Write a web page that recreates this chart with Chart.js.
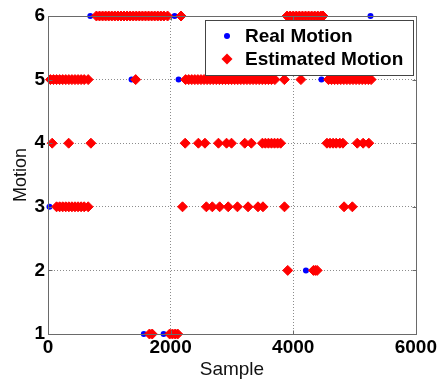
<!DOCTYPE html>
<html><head><meta charset="utf-8">
<script src="https://cdn.jsdelivr.net/npm/chart.js@4.4.1/dist/chart.umd.min.js"></script>
<style>html,body{margin:0;padding:0;background:#fff;}canvas{display:block;}</style>
</head><body>
<canvas id="c" width="439" height="381"></canvas>
<script>
// ---- data ----
const xTicks = [0, 2000, 4000, 6000];
const yTicks = [1, 2, 3, 4, 5, 6];
const seriesNames = ['Real Motion', 'Estimated Motion'];

// Estimated Motion: sample positions per motion level
const est6 = [790,840,890,940,990,1040,1090,1140,1190,1240,1290,1340,1390,1440,1490,1540,1590,1640,1690,1740,1790,1840,1890,1950,2170,
              3900,3950,4000,4050,4100,4150,4200,4250,4300,4350,4400,4450,4485];
const est5 = [40,90,140,190,240,290,340,390,440,490,540,590,655,1430,
              2245,2295,2345,2395,2445,2495,2545,2595,2645,2695,2745,2795,2845,2895,2945,2995,3045,3095,3145,3195,3245,3295,3345,3395,3445,3495,3545,3595,3645,3700,
              3855,4125,
              4575,4625,4675,4725,4775,4825,4875,4925,4975,5025,5075,5125,5175,5225,5270];
const est4 = [68,337,700,2237,2453,2560,2780,2912,2993,3209,3316,3497,3545,3595,3645,3695,3745,3794,
              4550,4600,4650,4700,4760,4810,5044,5140,5233];
const est3 = [140,190,240,290,340,390,440,490,540,590,655,2194,2583,2680,2800,2939,3090,3263,3425,3506,3857,4829,4964];
const est2 = [3910,4330,4360,4390];
const est1 = [1655,1700,1985,2030,2075,2115];

// Real Motion: sample positions per motion level
const real6 = [690,1200,1600,2065,5260];
const real5 = [1363,2130,3000,4460,5000];
const real4 = [];
const real3 = [24,400];
const real2 = [4207];
const real1 = [1563,1886];

const levels = [6,5,4,3,2,1];
const estByLevel = [est6, est5, est4, est3, est2, est1];
const realByLevel = [real6, real5, real4, real3, real2, real1];

function toPoints(groups){
  const pts = [];
  groups.forEach((xs, i) => xs.forEach(x => pts.push({x: x, y: levels[i]})));
  return pts;
}

const FONT = 'Liberation Sans, Arial, Helvetica, sans-serif';
const frameColor = '#6a6a6a';

const framePlugin = {
  id: 'frameAndLegend',
  afterDatasetsDraw(chart){
    const {ctx, chartArea: a, scales: {x, y}} = chart;
    ctx.save();
    ctx.strokeStyle = frameColor;
    ctx.lineWidth = 1;
    const L = Math.round(a.left) + 0.5, T = Math.round(a.top) + 0.5;
    const R = Math.round(a.right) + 0.5, B = Math.round(a.bottom) + 0.5;
    ctx.strokeRect(L, T, R - L, B - T);
    ctx.beginPath();
    xTicks.forEach(v => {
      const px = Math.round(x.getPixelForValue(v)) + 0.5;
      ctx.moveTo(px, B); ctx.lineTo(px, B - 4);
      ctx.moveTo(px, T); ctx.lineTo(px, T + 4);
    });
    yTicks.forEach(v => {
      const py = Math.round(y.getPixelForValue(v)) + 0.5;
      ctx.moveTo(L, py); ctx.lineTo(L + 4, py);
      ctx.moveTo(R, py); ctx.lineTo(R - 4, py);
    });
    ctx.stroke();
    ctx.restore();
  },
  afterDraw(chart){
    const ctx = chart.ctx;
    ctx.save();
    // legend box
    ctx.fillStyle = '#fff';
    ctx.fillRect(205, 20, 208, 55);
    ctx.strokeStyle = '#444';
    ctx.lineWidth = 1;
    ctx.strokeRect(205.5, 20.5, 208, 55);
    // markers
    ctx.fillStyle = '#0000ff';
    ctx.beginPath(); ctx.arc(227, 36, 3, 0, Math.PI * 2); ctx.fill();
    ctx.fillStyle = '#ff0000';
    ctx.beginPath();
    ctx.moveTo(227, 53.5); ctx.lineTo(232.5, 59); ctx.lineTo(227, 64.5); ctx.lineTo(221.5, 59); ctx.closePath();
    ctx.fill();
    // texts
    ctx.fillStyle = '#000';
    ctx.font = 'bold 19px ' + FONT;
    ctx.textBaseline = 'middle';
    ctx.textAlign = 'left';
    ctx.fillText(seriesNames[0], 245, 37);
    ctx.fillText(seriesNames[1], 245, 60);
    ctx.restore();
  }
};

const gridColor = ctx => (ctx.tick && (ctx.index === 0 || ctx.index === ctx.scale.ticks.length - 1)) ? 'rgba(0,0,0,0)' : '#8c8c8c';

new Chart(document.getElementById('c'), {
  type: 'scatter',
  data: {
    datasets: [
      {
        label: seriesNames[0],
        data: toPoints(realByLevel),
        order: 2,
        pointStyle: 'circle',
        pointRadius: 3,
        backgroundColor: '#0000ff',
        borderColor: '#0000ff',
        borderWidth: 0,
        clip: false
      },
      {
        label: seriesNames[1],
        data: toPoints(estByLevel),
        order: 1,
        pointStyle: 'rectRot',
        pointRadius: 5,
        backgroundColor: '#ff0000',
        borderColor: '#ff0000',
        borderWidth: 1,
        clip: false
      }
    ]
  },
  options: {
    responsive: false,
    animation: false,
    events: [],
    layout: { padding: { top: 16, right: 21, left: 0, bottom: 0 } },
    plugins: { legend: { display: false }, tooltip: { enabled: false } },
    scales: {
      x: {
        type: 'linear',
        min: 0, max: 6000,
        afterBuildTicks: s => { s.ticks = xTicks.map(v => ({value: v})); },
        afterFit: s => { s.height = 47; },
        ticks: { color: '#000', font: { family: FONT, size: 19, weight: 'bold' }, padding: 2, maxRotation: 0, autoSkip: false, callback: v => String(v) },
        grid: { color: gridColor, drawTicks: false, lineWidth: 1 },
        border: { display: false, dash: [1, 2] },
        title: { display: true, text: 'Sample', color: '#111', font: { family: FONT, size: 19, lineHeight: 1 }, padding: { top: 0, bottom: 2 } }
      },
      y: {
        type: 'linear',
        min: 1, max: 6,
        afterBuildTicks: s => { s.ticks = yTicks.map(v => ({value: v})); },
        afterFit: s => { s.width = 48; },
        ticks: { color: '#000', font: { family: FONT, size: 19, weight: 'bold' }, padding: 3, autoSkip: false, callback: v => String(v) },
        grid: { color: gridColor, drawTicks: false, lineWidth: 1 },
        border: { display: false, dash: [1, 2] },
        title: { display: true, text: 'Motion', color: '#111', font: { family: FONT, size: 18, lineHeight: 1 }, padding: { top: 12, bottom: 0 } }
      }
    }
  },
  plugins: [framePlugin]
});
</script>
</body></html>
